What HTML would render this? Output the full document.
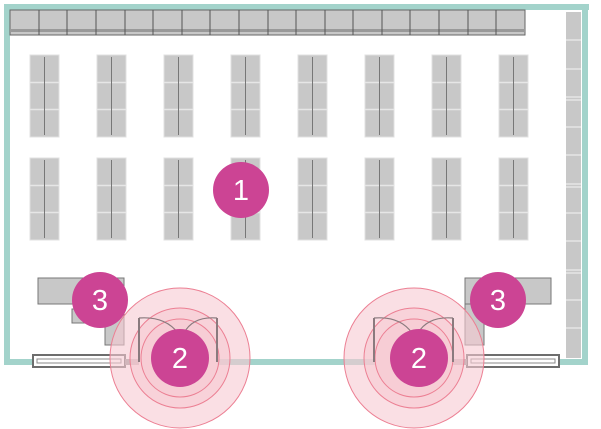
<!DOCTYPE html>
<html><head><style>body{margin:0;background:#fff}svg{display:block}</style></head><body>
<svg width="601" height="429" viewBox="0 0 601 429" xmlns="http://www.w3.org/2000/svg" font-family="Liberation Sans, sans-serif">
<defs>
<g id="sh">
<rect x="0" y="0" width="29" height="82" fill="#c8c8c8" stroke="#e0e0e0" stroke-width="1"/>
<line x1="0" y1="27.5" x2="29" y2="27.5" stroke="#e6e6e6" stroke-width="1.5"/>
<line x1="0" y1="54.5" x2="29" y2="54.5" stroke="#e6e6e6" stroke-width="1.5"/>
<line x1="14.5" y1="2" x2="14.5" y2="80" stroke="#777" stroke-width="1"/>
</g>
</defs>
<rect x="4" y="4" width="585" height="6" fill="#a3d3cb"/>
<rect x="4" y="4" width="6" height="361" fill="#a3d3cb"/>
<rect x="582" y="4" width="6" height="361" fill="#a3d3cb"/>
<rect x="4" y="359" width="30" height="6" fill="#a3d3cb"/>
<rect x="217" y="359" width="158" height="6" fill="#a3d3cb"/>
<rect x="558" y="359" width="30" height="6" fill="#a3d3cb"/>
<rect x="10" y="10" width="515" height="25" fill="#c8c8c8" stroke="#666" stroke-width="1"/>
<rect x="10" y="29" width="515" height="3" fill="#999"/>
<g stroke="#555" stroke-width="1">
<line x1="39" y1="10" x2="39" y2="35"/><line x1="67" y1="10" x2="67" y2="35"/><line x1="96" y1="10" x2="96" y2="35"/><line x1="125" y1="10" x2="125" y2="35"/><line x1="153" y1="10" x2="153" y2="35"/><line x1="182" y1="10" x2="182" y2="35"/><line x1="210" y1="10" x2="210" y2="35"/><line x1="239" y1="10" x2="239" y2="35"/><line x1="268" y1="10" x2="268" y2="35"/><line x1="296" y1="10" x2="296" y2="35"/><line x1="325" y1="10" x2="325" y2="35"/><line x1="353" y1="10" x2="353" y2="35"/><line x1="382" y1="10" x2="382" y2="35"/><line x1="410" y1="10" x2="410" y2="35"/><line x1="439" y1="10" x2="439" y2="35"/><line x1="468" y1="10" x2="468" y2="35"/><line x1="496" y1="10" x2="496" y2="35"/>
</g>
<rect x="566" y="12" width="15" height="346" fill="#c8c8c8"/>
<g stroke="#e6e6e6" stroke-width="1.5">
<line x1="566" y1="40" x2="581" y2="40"/><line x1="566" y1="69" x2="581" y2="69"/><line x1="566" y1="97" x2="581" y2="97"/><line x1="566" y1="100" x2="581" y2="100"/><line x1="566" y1="127" x2="581" y2="127"/><line x1="566" y1="155" x2="581" y2="155"/><line x1="566" y1="184" x2="581" y2="184"/><line x1="566" y1="187" x2="581" y2="187"/><line x1="566" y1="213" x2="581" y2="213"/><line x1="566" y1="241" x2="581" y2="241"/><line x1="566" y1="270" x2="581" y2="270"/><line x1="566" y1="273" x2="581" y2="273"/><line x1="566" y1="300" x2="581" y2="300"/><line x1="566" y1="328" x2="581" y2="328"/>
</g>
<use href="#sh" x="30" y="55"/><use href="#sh" x="97" y="55"/><use href="#sh" x="164" y="55"/><use href="#sh" x="231" y="55"/><use href="#sh" x="298" y="55"/><use href="#sh" x="365" y="55"/><use href="#sh" x="432" y="55"/><use href="#sh" x="499" y="55"/>
<use href="#sh" x="30" y="158"/><use href="#sh" x="97" y="158"/><use href="#sh" x="164" y="158"/><use href="#sh" x="231" y="158"/><use href="#sh" x="298" y="158"/><use href="#sh" x="365" y="158"/><use href="#sh" x="432" y="158"/><use href="#sh" x="499" y="158"/>
<g fill="#c8c8c8" stroke="#777" stroke-width="1">
<rect x="38" y="278" width="86" height="26"/><rect x="72" y="309" width="32" height="14"/><rect x="105" y="304" width="19" height="41"/>
<rect x="465" y="278" width="86" height="26"/><rect x="465" y="304" width="19" height="41"/>
</g>
<g>
<rect x="33" y="355" width="92" height="12" fill="#fff" stroke="#6d6d6d" stroke-width="2"/>
<rect x="37" y="359" width="84" height="4" fill="#fff" stroke="#888" stroke-width="1"/>
<rect x="467" y="355" width="92" height="12" fill="#fff" stroke="#6d6d6d" stroke-width="2"/>
<rect x="471" y="359" width="84" height="4" fill="#fff" stroke="#888" stroke-width="1"/>
<rect x="125" y="359" width="14" height="6" fill="#999"/>
<rect x="453" y="359" width="14" height="6" fill="#999"/>
</g>
<g fill="#f7c9d2" fill-opacity="0.6" stroke="#ec7f93" stroke-width="1">
<circle cx="180" cy="358" r="70"/><circle cx="180" cy="358" r="50"/><circle cx="180" cy="358" r="39"/>
<circle cx="414" cy="358" r="70"/><circle cx="414" cy="358" r="50"/><circle cx="414" cy="358" r="39"/>
</g>
<g stroke="#8a7a7e" stroke-width="2" fill="none">
<line x1="139" y1="318" x2="139" y2="362"/><line x1="217" y1="318" x2="217" y2="362"/>
<path d="M139 318 Q165 316 178 333 M217 318 Q193 316 184 333" stroke-width="1.2"/>
<line x1="374" y1="318" x2="374" y2="362"/><line x1="453" y1="318" x2="453" y2="362"/>
<path d="M374 318 Q400 316 412 333 M453 318 Q428 316 418 333" stroke-width="1.2"/>
</g>
<g fill="#cc4494">
<circle cx="241" cy="190" r="28"/><circle cx="100" cy="300" r="28"/><circle cx="498" cy="300" r="28"/>
<circle cx="180" cy="358" r="29"/><circle cx="419" cy="358" r="29"/>
</g>
<g fill="#fff" font-size="29" text-anchor="middle">
<text x="241" y="200">1</text><text x="100" y="310">3</text><text x="498" y="310">3</text>
<text x="180" y="368">2</text><text x="419" y="368">2</text>
</g>
</svg>
</body></html>
